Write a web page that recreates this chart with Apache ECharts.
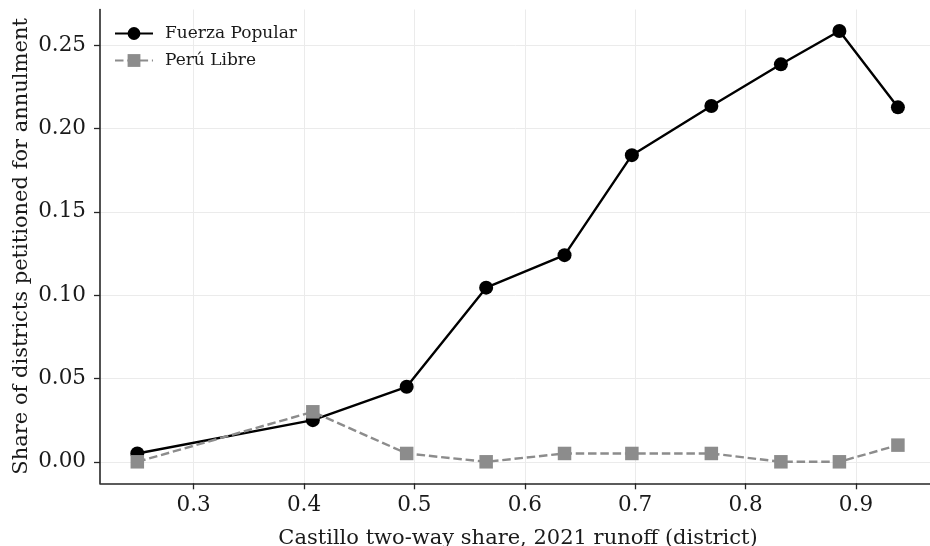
<!DOCTYPE html>
<html>
<head>
<meta charset="utf-8">
<script src="https://cdn.jsdelivr.net/npm/echarts@6/dist/echarts.min.js"></script>
<style>
  html, body { margin: 0; padding: 0; background: #fff; }
  #chart { width: 930px; height: 546px; }
</style>
</head>
<body>
<div id="chart"></div>
<script>
// Castillo two-way share per bin (x) and share of districts petitioned
const castilloShare = [0.249, 0.408, 0.493, 0.565, 0.636, 0.697, 0.769, 0.832, 0.885, 0.938];
const fuerzaPopular = [0.005, 0.025, 0.045, 0.1045, 0.124, 0.184, 0.2135, 0.2385, 0.2585, 0.2127];
const peruLibre = [0.0, 0.03, 0.005, 0.0, 0.005, 0.005, 0.005, 0.0, 0.0, 0.01];
const xTicks = [0.3, 0.4, 0.5, 0.6, 0.7, 0.8, 0.9];
const yTicks = [0, 0.05, 0.1, 0.15, 0.2, 0.25];

const font = "DejaVu Serif";
const axisColor = "#262626";

const pairs = (xs, ys) => xs.map((x, i) => [x, ys[i]]);

const chart = echarts.init(document.getElementById("chart"));
chart.setOption({
  animation: false,
  backgroundColor: "#fff",
  textStyle: { fontFamily: font },
  grid: { left: 100, right: -6, top: 9.5, bottom: 62.7, outerBoundsMode: "none", containLabel: false },
  legend: {
    left: 114,
    top: 25,
    padding: 0,
    orient: "vertical",
    itemWidth: 38,
    itemHeight: 16,
    itemGap: 10,
    textStyle: { fontFamily: font, fontSize: 17, color: "#1a1a1a", padding: [0, 0, 0, 7] },
    data: ["Fuerza Popular", "Perú Libre"]
  },
  xAxis: {
    type: "value",
    min: 0.2152,
    max: 0.9725,
    name: "Castillo two-way share, 2021 runoff (district)",
    nameLocation: "middle",
    nameGap: 45,
    nameMoveOverlap: false,
    nameTextStyle: { fontFamily: font, fontSize: 21, color: "#1a1a1a" },
    axisLine: { show: true, onZero: false, lineStyle: { color: axisColor, width: 1.6 } },
    axisTick: { show: true, length: 6, customValues: xTicks, lineStyle: { color: axisColor, width: 1.3 } },
    axisLabel: {
      customValues: xTicks,
      margin: 11,
      fontFamily: font,
      fontSize: 21.5,
      color: "#1a1a1a",
      formatter: v => v.toFixed(1)
    },
    splitLine: { show: true, lineStyle: { color: "#ebebeb", width: 1 } }
  },
  yAxis: {
    type: "value",
    min: -0.0129,
    max: 0.2714,
    name: "Share of districts petitioned for annulment",
    nameLocation: "middle",
    nameGap: 68,
    nameMoveOverlap: false,
    nameRotate: 90,
    nameTextStyle: { fontFamily: font, fontSize: 21, color: "#1a1a1a" },
    axisLine: { show: true, onZero: false, lineStyle: { color: axisColor, width: 1.6 } },
    axisTick: { show: true, length: 6, customValues: yTicks, lineStyle: { color: axisColor, width: 1.3 } },
    axisLabel: {
      customValues: yTicks,
      margin: 14,
      fontFamily: font,
      fontSize: 21.5,
      color: "#1a1a1a",
      formatter: v => v.toFixed(2)
    },
    splitLine: { show: true, lineStyle: { color: "#ebebeb", width: 1 } }
  },
  series: [
    {
      name: "Fuerza Popular",
      type: "line",
      data: pairs(castilloShare, fuerzaPopular),
      symbol: "circle",
      symbolSize: 14,
      itemStyle: { color: "#000" },
      lineStyle: { color: "#000", width: 2.4 }
    },
    {
      name: "Perú Libre",
      type: "line",
      data: pairs(castilloShare, peruLibre),
      symbol: "rect",
      symbolSize: 13.5,
      itemStyle: { color: "#8c8c8c" },
      lineStyle: { color: "#8c8c8c", width: 2.4, type: [8.5, 3.8] }
    }
  ]
});
</script>
</body>
</html>
